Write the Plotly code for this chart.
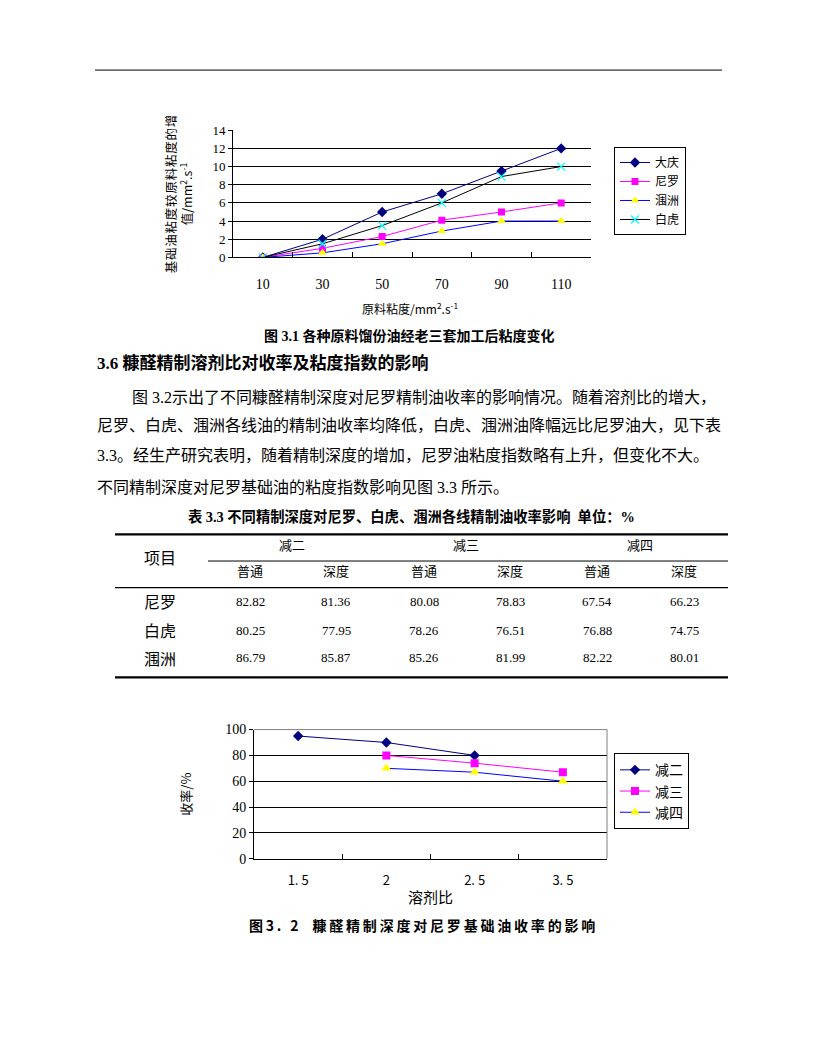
import plotly.graph_objects as go

W, H = 816, 1056
def px(x): return x / W
def py(y): return 1 - y / H

# ---------------- data ----------------
# Figure 3.1
visc_cats = ['10', '30', '50', '70', '90', '110']
daqing = [0, 2, 5, 7, 9.5, 12]
niluo = [0, 1, 2.3, 4.1, 5, 6]
weizhou = [0, 0.5, 1.5, 2.9, 4, 4]
baihu = [0, 1.5, 3.5, 6, 8.9, 10]
y1_ticks = [0, 2, 4, 6, 8, 10, 12, 14]
y1_grid = [2, 4, 6, 8, 10, 12]

# Figure 3.2
ratio_cats = ['1. 5', '2', '2. 5', '3. 5']
jian2 = [95, 90, 80, None]
jian3 = [None, 80, 74, 67]
jian4 = [None, 70, 67, 60]
y2_ticks = [0, 20, 40, 60, 80, 100]
y2_grid = [20, 40, 60, 80]

# Table 3.3
table_groups = ['减二', '减三', '减四']
table_sub = ['普通', '深度', '普通', '深度', '普通', '深度']
table_rows = ['尼罗', '白虎', '涠洲']
niluo_yield = [82.82, 81.36, 80.08, 78.83, 67.54, 66.23]
baihu_yield = [80.25, 77.95, 78.26, 76.51, 76.88, 74.75]
weizhou_yield = [86.79, 85.87, 85.26, 81.99, 82.22, 80.01]
table_values = [niluo_yield, baihu_yield, weizhou_yield]

SERIF = "Liberation Serif, Noto Sans CJK SC"
CJK = "Noto Sans CJK SC"

fig = go.Figure()

def add_series(x, y, name, line_color, msym, mcolor, msize, xa, ya, leg, mline=None):
    marker = dict(symbol=msym, color=mcolor, size=msize)
    if mline:
        marker['line'] = dict(color=mline, width=1.2)
    fig.add_trace(go.Scatter(x=x, y=y, name=name, mode='lines+markers',
                             line=dict(color=line_color, width=1),
                             marker=marker, xaxis=xa, yaxis=ya, legend=leg,
                             connectgaps=False))

add_series(visc_cats, daqing, '大庆', '#000080', 'diamond', '#000080', 8, 'x', 'y', 'legend')
add_series(visc_cats, niluo, '尼罗', '#FF00FF', 'square', '#FF00FF', 7, 'x', 'y', 'legend')
add_series(visc_cats, weizhou, '涠洲', '#0000FF', 'triangle-up', '#FFFF00', 8, 'x', 'y', 'legend')
add_series(visc_cats, baihu, '白虎', '#000000', 'x-thin', '#00FFFF', 8, 'x', 'y', 'legend', mline='#00FFFF')

add_series(ratio_cats, jian2, '减二', '#000080', 'diamond', '#000080', 8, 'x2', 'y2', 'legend2')
add_series(ratio_cats, jian3, '减三', '#FF00FF', 'square', '#FF00FF', 8, 'x2', 'y2', 'legend2')
add_series(ratio_cats, jian4, '减四', '#0000FF', 'triangle-up', '#FFFF00', 9, 'x2', 'y2', 'legend2')

axis_common = dict(showline=True, linecolor='black', linewidth=1, tickcolor='black',
                   zeroline=False)

fig.update_layout(
    width=W, height=H, margin=dict(l=0, r=0, t=0, b=0),
    paper_bgcolor='white', plot_bgcolor='white',
    xaxis=dict(domain=[px(233), px(591)], anchor='y', type='category',
               range=[-0.5, 5.5], tickson='boundaries', ticks='inside', ticklen=5,
               showgrid=False, tickfont=dict(family=SERIF, size=14, color='black'),
               ticklabelstandoff=14, **axis_common),
    yaxis=dict(domain=[py(254), py(125)], anchor='x', range=[0, 14],
               tickmode='array', tickvals=y1_ticks, ticks='outside', ticklen=4,
               showgrid=False,
               minor=dict(tickmode='array', tickvals=y1_grid, showgrid=True,
                          gridcolor='black', gridwidth=1, ticks=''),
               tickfont=dict(family=SERIF, size=13, color='black'), **axis_common),
    xaxis2=dict(domain=[px(254), px(607)], anchor='y2', type='category',
                range=[-0.5, 3.5], tickson='boundaries', ticks='inside', ticklen=5,
                showgrid=False, tickfont=dict(family=CJK, size=13, color='black'),
                ticklabelstandoff=10, **axis_common),
    yaxis2=dict(domain=[py(864), py(733)], anchor='x2', range=[0, 100],
                tickmode='array', tickvals=y2_ticks, ticks='outside', ticklen=4,
                showgrid=False,
                minor=dict(tickmode='array', tickvals=y2_grid, showgrid=True,
                           gridcolor='black', gridwidth=1, ticks=''),
                tickfont=dict(family=SERIF, size=14, color='black'), **axis_common),
    legend=dict(x=px(614), y=py(142), xanchor='left', yanchor='top',
                bgcolor='white', bordercolor='black', borderwidth=1,
                font=dict(family=CJK, size=12, color='black'), itemwidth=30,
                tracegroupgap=0),
    legend2=dict(x=px(614), y=py(757), xanchor='left', yanchor='top',
                 bgcolor='white', bordercolor='black', borderwidth=1,
                 font=dict(family=CJK, size=14, color='black'), itemwidth=30,
                 tracegroupgap=0),
    showlegend=True,
)

shapes = []
# page header rule
shapes.append(dict(type='line', xref='paper', yref='paper', x0=px(95), x1=px(722),
                   y0=py(64), y1=py(64), line=dict(color='black', width=1)))
# chart 2 grey border (top & right)
shapes.append(dict(type='line', xref='x2 domain', yref='y2 domain', x0=0, x1=1, y0=1, y1=1,
                   line=dict(color='#808080', width=1), layer='above'))
shapes.append(dict(type='line', xref='x2 domain', yref='y2 domain', x0=1, x1=1, y0=0, y1=1,
                   line=dict(color='#808080', width=1), layer='above'))
# table rules
def hline(x0, x1, y, w):
    shapes.append(dict(type='line', xref='paper', yref='paper', x0=px(x0), x1=px(x1),
                       y0=py(y), y1=py(y), line=dict(color='black', width=w)))
hline(115, 728, 535, 2.2)
hline(208, 728, 562, 1)
hline(115, 728, 589, 1.3)
hline(115, 728, 680, 2.2)
fig.update_layout(shapes=shapes)

ann = []
def text(x, y, s, size, family=CJK, bold=False, xanchor='left', angle=0, color='black'):
    if bold:
        s = '<b>' + s + '</b>'
    ann.append(dict(x=px(x), y=py(y), xref='paper', yref='paper', text=s, showarrow=False,
                    xanchor=xanchor, yanchor='middle', textangle=angle,
                    font=dict(family=family, size=size, color=color)))

# chart 1 titles
text(178, 190, '\u200a'.join('基础油粘度较原料粘度的增') + '<br>值/mm<sup>2</sup>.s<sup>-1</sup>',
     12.5, family=CJK, xanchor='center', angle=-90)
text(410, 305, '原料粘度/mm<sup>2</sup>.s<sup>-1</sup>', 12, family=CJK, xanchor='center')
text(262, 334, '图 3.1 各种原料馏份油经老三套加工后粘度变化', 14, family=SERIF, bold=True)

# section heading and paragraph
text(95, 361, '3.6 糠醛精制溶剂比对收率及粘度指数的影响', 17, family=SERIF, bold=True)
text(130, 396, '图 3.2示出了不同糠醛精制深度对尼罗精制油收率的影响情况。随着溶剂比的增大，', 16, family=SERIF)
text(95, 425, '尼罗、白虎、涠洲各线油的精制油收率均降低，白虎、涠洲油降幅远比尼罗油大，见下表', 16, family=SERIF)
text(95, 455, '3.3。经生产研究表明，随着精制深度的增加，尼罗油粘度指数略有上升，但变化不大。', 16, family=SERIF)
text(95, 487, '不同精制深度对尼罗基础油的粘度指数影响见图 3.3 所示。', 16, family=SERIF)

# table
text(411, 517, '表 3.3 不同精制深度对尼罗、白虎、涠洲各线精制油收率影响  单位：%', 14.3, family=SERIF,
     bold=True, xanchor='center')
text(160, 558, '项目', 16, xanchor='center')
group_x = [292, 466, 640]
for gx, g in zip(group_x, table_groups):
    text(gx, 545, g, 13, xanchor='center')
col_x = [250, 336, 424, 510, 597, 684]
for cx, s in zip(col_x, table_sub):
    text(cx, 572, s, 13, xanchor='center')
row_y = [603, 632, 660]
for ry, rname, vals in zip(row_y, table_rows, table_values):
    text(160, ry, rname, 16, xanchor='center')
    for cx, v in zip(col_x, vals):
        text(cx, ry, f'{v:.2f}', 13, family=SERIF, xanchor='center')

# chart 2 titles
text(186, 799, '收率/%', 13, xanchor='center', angle=-90)
text(430, 902, '溶剂比', 15, xanchor='center')
text(247, 931, '\u2009'.join('图3. 2') + '\u3000' + '\u2009'.join('糠醛精制深度对尼罗基础油收率的影响'),
     14, family=CJK, bold=True)

fig.update_layout(annotations=ann)
post = ("document.documentElement.style.margin='0';"
        "document.documentElement.style.overflow='hidden';"
        "document.body.style.margin='0';document.body.style.overflow='hidden';"
        "var d=document.getElementById('{plot_id}');"
        "d.style.position='fixed';d.style.left='0px';d.style.top='0px';")
fig.write_html('out.html', config={'displayModeBar': False}, post_script=post)
